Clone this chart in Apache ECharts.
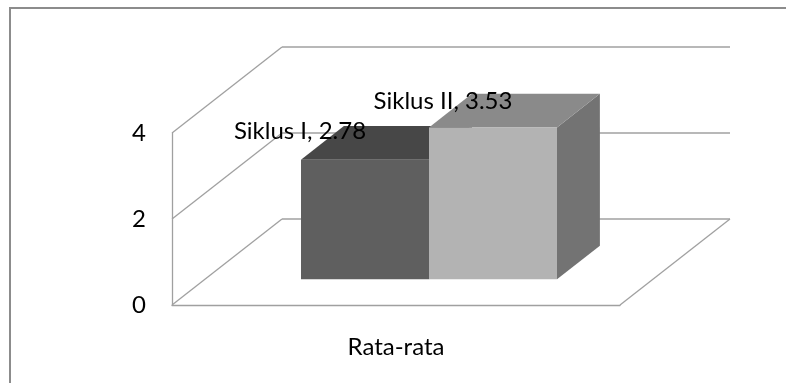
<!DOCTYPE html>
<html>
<head>
<meta charset="utf-8">
<script src="https://cdn.jsdelivr.net/npm/echarts@6/dist/echarts.min.js"></script>
<style>
  html, body { margin: 0; padding: 0; background: #fff; }
  #chart { width: 786px; height: 383px; }
</style>
</head>
<body>
<div id="chart"></div>
<script>
// Chart data
const categories = ['Rata-rata'];
const seriesNames = ['Siklus I', 'Siklus II'];
const values = [2.78, 3.53];
const yTicks = [0, 2, 4];

// Oblique projection used to fake the 3D box look
const DEPTH_X = 110;    // horizontal shift of the back wall
const DEPTH_Y = -86;    // vertical shift of the back wall
const BAR_T0 = 0.30;    // bar front face depth (fraction of wall depth)
const BAR_T1 = 0.69;    // bar back face depth
const BAR_W = 1 / 3.5;  // bar width as fraction of the category band
const GAP_START = 0.75 / 3.5;

const gridColor = '#a0a0a0';
const barStyles = [
  { front: '#5f5f5f', top: '#474747', side: '#4f4f4f' },
  { front: '#b3b3b3', top: '#8a8a8a', side: '#737373' }
];
// small nudges for the value labels, relative to the bar's front top-left corner
const labelNudge = [[-1, -28], [14, -26]];
const FONT = 'Lato, "Open Sans", sans-serif';
const FONT_SIZE = 24;

const chart = echarts.init(document.getElementById('chart'), null, { renderer: 'canvas' });

function line(x1, y1, x2, y2) {
  return {
    type: 'line',
    shape: { x1, y1, x2, y2 },
    style: { stroke: gridColor, lineWidth: 1.3 },
    silent: true
  };
}

function renderWalls(params, api) {
  const v = api.value(1);
  const p = api.coord([0, v]);
  const band = api.size([1, 0])[0];
  const xL = p[0] - band / 2;
  const xR = p[0] + band / 2;
  const y = p[1];
  const children = [
    line(xL, y, xL + DEPTH_X, y + DEPTH_Y),
    line(xL + DEPTH_X, y + DEPTH_Y, xR + DEPTH_X, y + DEPTH_Y)
  ];
  if (v === yTicks[0]) {
    children.push(line(xR, y, xR + DEPTH_X, y + DEPTH_Y));
  }
  return { type: 'group', children };
}

function renderBar(params, api) {
  const cat = api.value(0);
  const val = api.value(1);
  const slot = api.value(2);
  const base = api.coord([cat, 0]);
  const topPt = api.coord([cat, val]);
  const band = api.size([1, 0])[0];
  const xStart = base[0] - band / 2 + band * (GAP_START + slot * BAR_W);
  const w = band * BAR_W;
  const x0 = xStart + BAR_T0 * DEPTH_X;
  const x1 = x0 + w;
  const yb = base[1] + BAR_T0 * DEPTH_Y;
  const yt = topPt[1] + BAR_T0 * DEPTH_Y;
  const dx = (BAR_T1 - BAR_T0) * DEPTH_X;
  const dy = (BAR_T1 - BAR_T0) * DEPTH_Y;
  const st = barStyles[slot];
  return {
    type: 'group',
    children: [
      { type: 'polygon', shape: { points: [[x1, yt], [x1 + dx, yt + dy], [x1 + dx, yb + dy], [x1, yb]] },
        style: { fill: st.side } },
      { type: 'polygon', shape: { points: [[x0, yt], [x1, yt], [x1 + dx, yt + dy], [x0 + dx, yt + dy]] },
        style: { fill: st.top } },
      { type: 'rect', shape: { x: x0, y: yt, width: w, height: yb - yt },
        style: { fill: st.front } }
    ]
  };
}

function renderLabel(params, api) {
  const cat = api.value(0);
  const val = api.value(1);
  const slot = api.value(2);
  const base = api.coord([cat, 0]);
  const topPt = api.coord([cat, val]);
  const band = api.size([1, 0])[0];
  const x0 = base[0] - band / 2 + band * (GAP_START + slot * BAR_W) + BAR_T0 * DEPTH_X;
  const yt = topPt[1] + BAR_T0 * DEPTH_Y;
  const nudge = labelNudge[slot];
  return {
    type: 'text',
    x: x0 + nudge[0],
    y: yt + nudge[1],
    style: {
      text: seriesNames[slot] + ', ' + values[slot],
      fill: '#000',
      font: FONT_SIZE + 'px ' + FONT,
      align: 'center',
      verticalAlign: 'middle'
    },
    z2: 100
  };
}

const barData = values.map((v, i) => [0, v, i]);

const option = {
  animation: false,
  backgroundColor: '#fff',
  grid: { left: 172, right: 166, top: 133, bottom: 78 },
  xAxis: {
    type: 'category',
    data: categories,
    axisLine: { show: true, lineStyle: { color: gridColor, width: 1.3 } },
    axisTick: { show: false },
    axisLabel: { color: '#000', fontFamily: FONT, fontSize: FONT_SIZE, margin: 30 },
    splitLine: { show: false }
  },
  yAxis: {
    type: 'value',
    min: 0,
    max: 4,
    interval: 2,
    axisLine: { show: true, lineStyle: { color: gridColor, width: 1.3 } },
    axisTick: { show: false },
    axisLabel: { color: '#000', fontFamily: FONT, fontSize: FONT_SIZE, margin: 26 },
    splitLine: { show: false }
  },
  graphic: [{
    type: 'rect',
    shape: { x: 10, y: 8, width: 820, height: 420 },
    style: { fill: null, stroke: '#8c8c8c', lineWidth: 2 },
    silent: true,
    z: -10
  }],
  series: [
    {
      type: 'custom',
      name: 'walls',
      clip: false,
      silent: true,
      z: 1,
      renderItem: renderWalls,
      data: yTicks.map(t => [0, t])
    },
    {
      type: 'custom',
      name: 'bars',
      clip: false,
      z: 2,
      renderItem: renderBar,
      data: barData
    },
    {
      type: 'custom',
      name: 'labels',
      clip: false,
      silent: true,
      z: 3,
      renderItem: renderLabel,
      data: barData
    }
  ]
};

chart.setOption(option);
</script>
</body>
</html>
